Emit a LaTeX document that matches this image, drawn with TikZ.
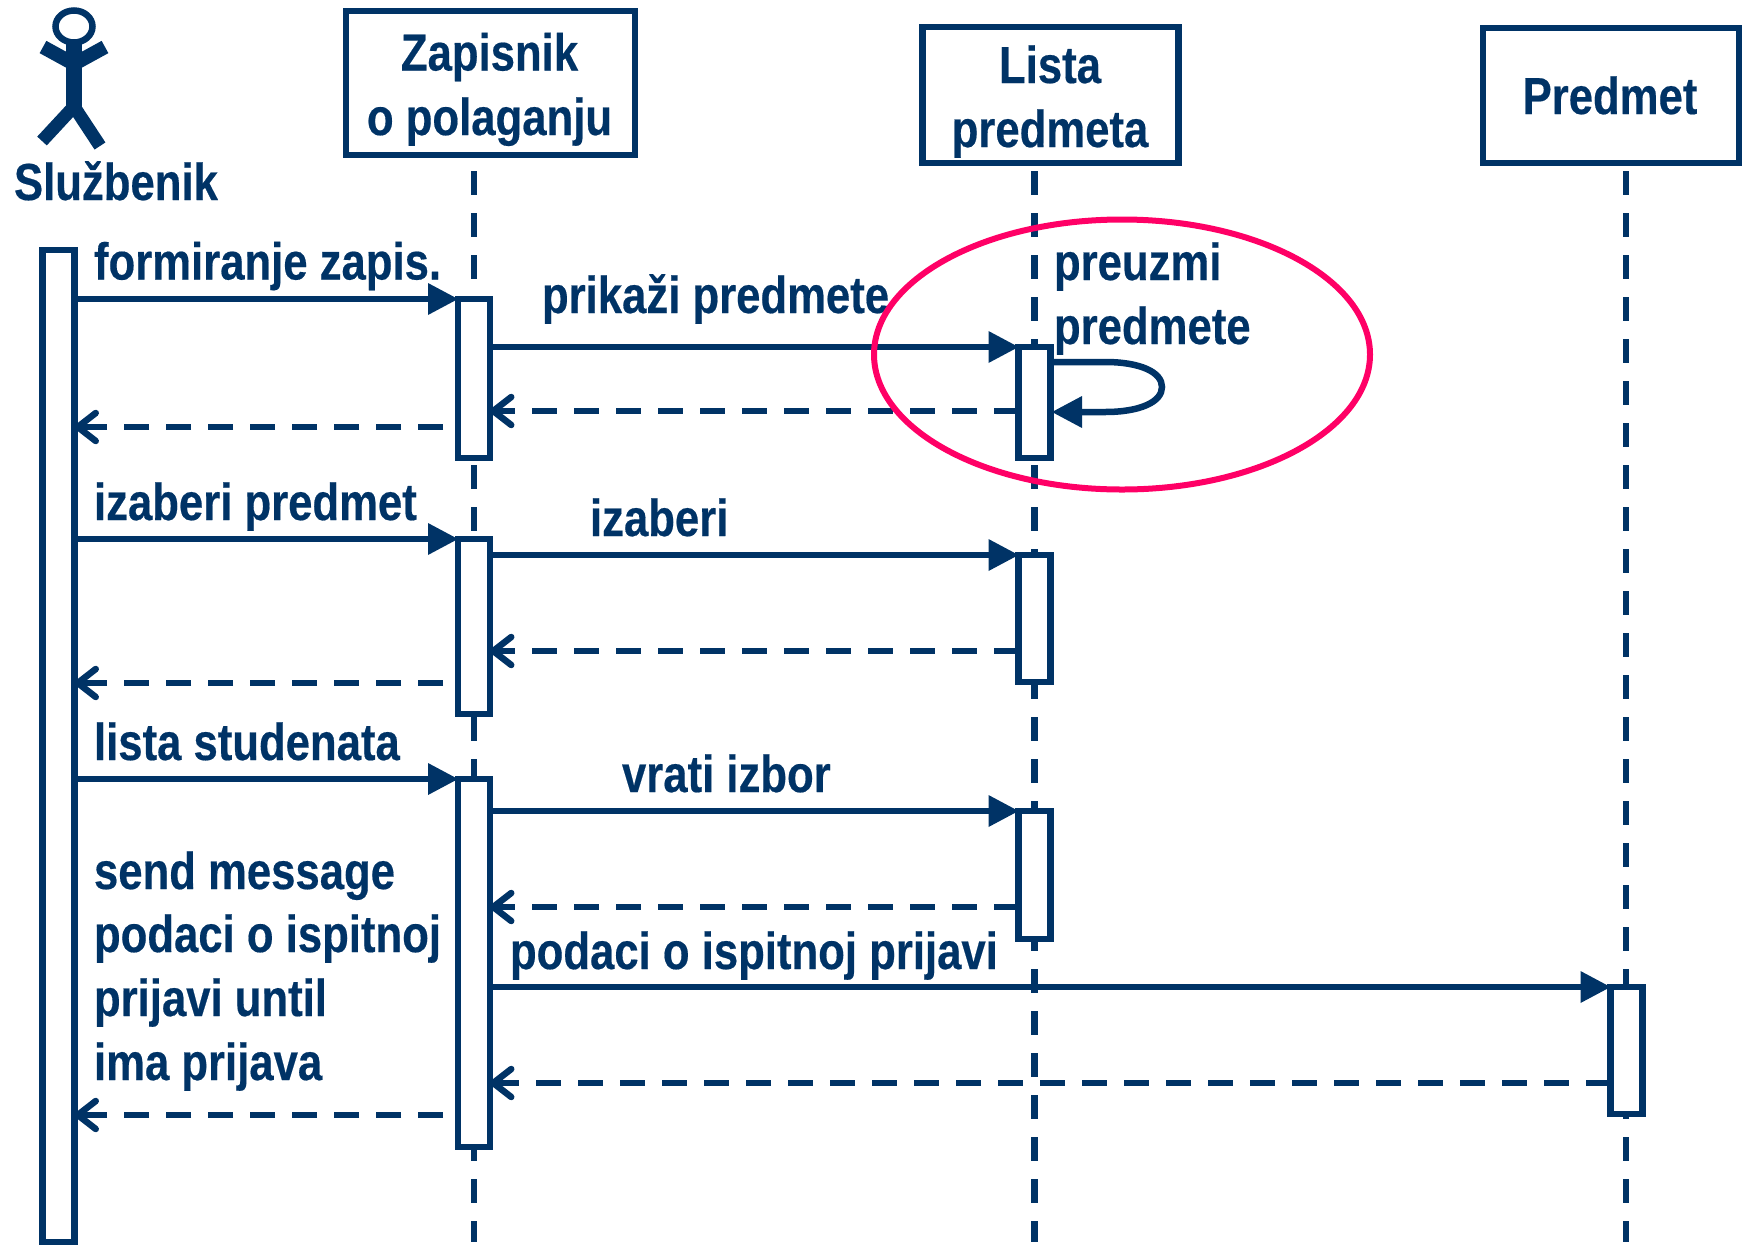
\documentclass[tikz,border=0pt]{standalone}
\usepackage{fontspec}
\setmainfont[FakeStretch=0.84,FakeBold=0.35]{Liberation Sans}
\usetikzlibrary{arrows.meta,shapes.geometric}
\definecolor{navy}{HTML}{003366}
\definecolor{hot}{HTML}{FF0066}
\begin{document}
\begin{tikzpicture}[x=1pt,y=-1pt,
 every node/.style={inner sep=0pt,outer sep=0pt},
 lbl/.style={font=\fontsize{52}{64}\selectfont\bfseries,text=navy,anchor=base west},
 clbl/.style={font=\fontsize{52}{64}\selectfont\bfseries,text=navy,anchor=base},
 objbox/.style={draw=navy,line width=6.5pt,fill=white,minimum width=#1},
 act/.style={draw=navy,line width=6.5pt,fill=white,minimum width=32pt},
 lifeline/.style={draw=navy,line width=6.5pt,dash pattern=on 24pt off 18pt},
 msg/.style={draw=navy,line width=6.5pt,-{Triangle[length=30pt,width=32pt,line width=0pt]}},
 ret/.style={draw=navy,line width=6.5pt,dash pattern=on 25pt off 17pt,-{Straight Barb[length=18pt,width=28pt,line width=6.5pt,round]}},
 limb/.style={draw=navy,line cap=butt}]
\useasboundingbox (0,0) rectangle (1744,1256);
% actor
\node[draw=navy,line width=6.5pt,ellipse,minimum width=37pt,minimum height=32pt] (head) at (74,26.5) {};
\draw[limb,line width=16pt] (head.south) -- ++(0,64) coordinate (hip);
\draw[limb,line width=14pt] (43,47) -- (74,64) -- (105,47);
\draw[limb,line width=13pt] (42,141) -- (hip) -- (100,146);
\node[lbl] (actor) at (14,200) {Službenik};
% object boxes
\node[objbox=289pt,minimum height=144pt] (zbox) at (490.5,83) {};
\node[objbox=256pt,minimum height=136pt] (lbox) at (1050.5,95) {};
\node[objbox=256pt,minimum height=135pt] (pbox) at (1611,95.5) {};
\node[clbl] (zt1) at (489.5,70.5) {Zapisnik};
\node[clbl] (zt2) at (489.5,135) {o polaganju};
\node[clbl] (lt1) at (1050,83) {Lista};
\node[clbl] (lt2) at (1050,147) {predmeta};
\node[clbl] (pt1) at (1610,114) {Predmet};
% lifelines
\coordinate (zs) at (474,171); \coordinate (ze) at (474,1242);
\coordinate (ls) at (1034.5,171); \coordinate (le) at (1034.5,1242);
\coordinate (ps) at (1626,171); \coordinate (pe) at (1626,1242);
\draw[lifeline] (zs) -- (ze);
\draw[lifeline] (ls) -- (le);
\draw[lifeline] (ps) -- (pe);
% activations
\node[act,minimum height=992pt,anchor=north] (a0) at (58.5,250) {};
\node[act,minimum height=159pt,anchor=north] (z1) at (474,299) {};
\node[act,minimum height=175pt,anchor=north] (z2) at (474,539) {};
\node[act,minimum height=368pt,anchor=north] (z3) at (474,779) {};
\node[act,minimum height=111pt,anchor=north] (l1) at (1034.5,347) {};
\node[act,minimum height=127pt,anchor=north] (l2) at (1034.5,555) {};
\node[act,minimum height=128pt,anchor=north] (l3) at (1034.5,811) {};
\node[act,minimum height=127pt,anchor=north] (p1) at (1626.5,987) {};
% calls
\draw[msg] (a0.east |- z1.north) -- (z1.north west);
\draw[msg] (z1.east |- l1.north) -- (l1.north west);
\draw[msg] (a0.east |- z2.north) -- (z2.north west);
\draw[msg] (z2.east |- l2.north) -- (l2.north west);
\draw[msg] (a0.east |- z3.north) -- (z3.north west);
\draw[msg] (z3.east |- l3.north) -- (l3.north west);
\draw[msg] (z3.east |- p1.north) -- (p1.north west);
% returns
\coordinate (r1) at (0,411); \coordinate (r2) at (0,427); \coordinate (r3) at (0,651);
\coordinate (r4) at (0,683); \coordinate (r5) at (0,907); \coordinate (r6) at (0,1083);
\coordinate (r7) at (0,1115);
\draw[ret] (l1.west |- r1) -- (z1.east |- r1);
\draw[ret,dash phase=27pt] (z1.west |- r2) -- (a0.east |- r2);
\draw[ret] (l2.west |- r3) -- (z2.east |- r3);
\draw[ret,dash phase=27pt] (z2.west |- r4) -- (a0.east |- r4);
\draw[ret] (l3.west |- r5) -- (z3.east |- r5);
\draw[ret] (p1.west |- r6) -- (z3.east |- r6);
\draw[ret,dash phase=27pt] (z3.west |- r7) -- (a0.east |- r7);
% self call
\coordinate (s1) at (1052,362); \coordinate (s2) at (1052,412);
\draw[msg] (s1) -- (1105,362) .. controls (1140,362) and (1162,372) .. (1162,387)
  .. controls (1162,402) and (1140,412) .. (1105,412) -- (s2);
% labels
\node[lbl] (m1) at (94,279.5) {formiranje zapis.};
\node[lbl] (m2) at (542,313) {prikaži predmete};
\node[lbl] (m3) at (1054,280) {preuzmi};
\node[lbl] (m4) at (1054,344) {predmete};
\node[lbl] (m5) at (94,520) {izaberi predmet};
\node[lbl] (m6) at (590,536) {izaberi};
\node[lbl] (m7) at (94,760) {lista studenata};
\node[lbl] (m8) at (622,792) {vrati izbor};
\node[lbl] (m9) at (94,889) {send message};
\node[lbl] (m10) at (94,952) {podaci o ispitnoj};
\node[lbl] (m11) at (94,1016) {prijavi until};
\node[lbl] (m12) at (94,1080) {ima prijava};
\node[lbl] (m13) at (510,969) {podaci o ispitnoj prijavi};
% highlight
\node[draw=hot,line width=6pt,ellipse,minimum width=496pt,minimum height=270pt] (hl) at (1122,354.5) {};
\end{tikzpicture}
\end{document}
